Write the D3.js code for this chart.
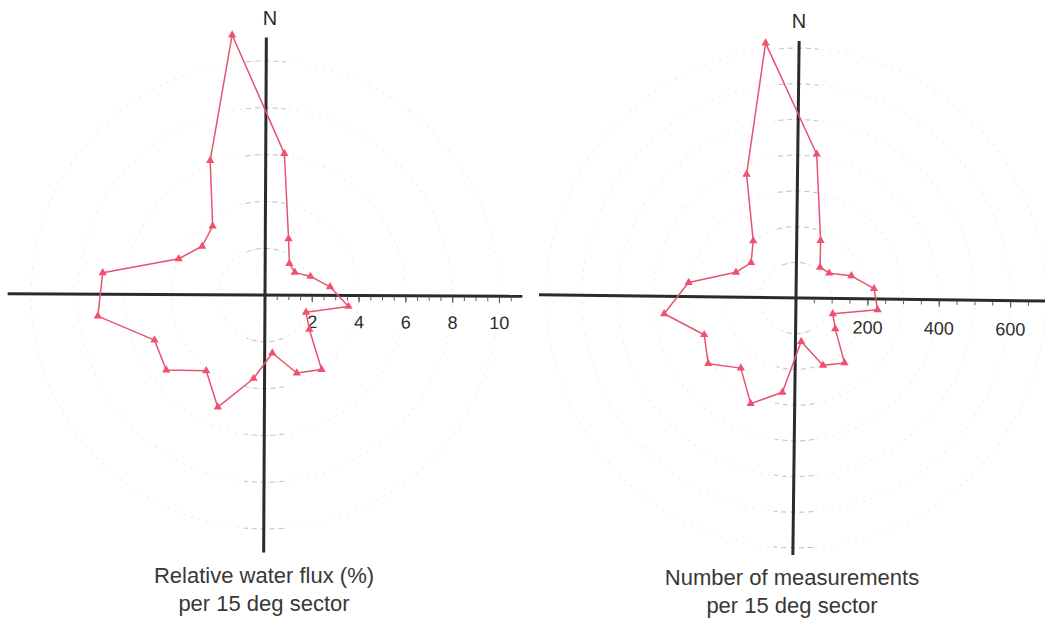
<!DOCTYPE html>
<html>
<head>
<meta charset="utf-8">
<script src="https://cdn.jsdelivr.net/npm/d3@7"></script>
<style>
  html, body { margin: 0; padding: 0; background: #ffffff; }
  svg { display: block; font-family: "Liberation Sans", Arial, sans-serif; }
</style>
</head>
<body>
<svg id="chart" width="1045" height="621"></svg>
<script>
// Compass bearing (deg) of the centre of each 15 degree sector
const sectorAngles = [7.5, 22.5, 37.5, 52.5, 67.5, 82.5, 97.5, 112.5, 127.5, 142.5, 157.5, 172.5,
                      187.5, 202.5, 217.5, 232.5, 247.5, 262.5, 277.5, 292.5, 307.5, 322.5, 337.5, 352.5];

// Relative water flux (%) per sector
const fluxPercent = [6.1, 2.6, 1.7, 1.6, 2.1, 2.8, 3.6, 1.9, 2.4, 4.0, 3.6, 2.5,
                     3.6, 5.2, 4.1, 5.3, 5.1, 7.2, 7.0, 4.0, 3.4, 3.7, 6.2, 11.2];

// Number of measurements per sector
const measurementCount = [407, 175, 109, 116, 167, 220, 231, 112, 140, 227, 203, 123,
                          267, 322, 250, 307, 277, 372, 304, 183, 160, 200, 373, 719];

// Radial axis labels and ring values
const fluxTickLabels = [2, 4, 6, 8, 10];
const fluxRings = [2, 4, 6, 8, 10];
const countTickLabels = [200, 400, 600];
const countRings = [100, 200, 300, 400, 500, 600, 700];

const captionFlux = ["Relative water flux (%)", "per 15 deg sector"];
const captionCount = ["Number of measurements", "per 15 deg sector"];

const svg = d3.select("#chart");

function drawRose(opts) {
  const g = svg.append("g")
    .attr("transform", `translate(${opts.cx},${opts.cy}) rotate(${opts.rotate})`);

  const r = d3.scaleLinear().domain([0, opts.maxValue]).range([0, opts.radius]);
  const R = r(opts.maxValue);

  // faint dotted range rings
  g.append("g").selectAll("circle")
    .data(opts.rings)
    .join("circle")
    .attr("r", d => r(d))
    .attr("fill", "none")
    .attr("stroke", "#e9e9e9")
    .attr("stroke-width", 1)
    .attr("stroke-dasharray", "2,6");

  // ring segments near the north-south line are printed darker
  const arcs = g.append("g");
  opts.rings.forEach(v => {
    [-Math.PI / 2, Math.PI / 2].forEach(mid => {
      const p = d3.path();
      const half = 20 / r(v);
      p.arc(0, 0, r(v), mid - Math.min(half, 0.4), mid + Math.min(half, 0.4));
      arcs.append("path")
        .attr("d", p.toString())
        .attr("fill", "none")
        .attr("stroke", "#bfc3c8")
        .attr("stroke-width", 1)
        .attr("stroke-dasharray", "5,4");
    });
  });

  // main cross axes
  g.append("line").attr("x1", -R).attr("x2", R).attr("y1", 0).attr("y2", 0)
    .attr("stroke", "#2b2b2b").attr("stroke-width", 3);
  g.append("line").attr("x1", 0).attr("x2", 0).attr("y1", -R).attr("y2", R)
    .attr("stroke", "#2b2b2b").attr("stroke-width", 3);

  // minor ticks along the east axis
  const minorAxis = d3.axisBottom(r)
    .tickValues(d3.range(opts.minorStep, opts.maxValue, opts.minorStep))
    .tickSize(4)
    .tickFormat("");
  const minorG = g.append("g").attr("transform", "translate(0,1)").call(minorAxis);
  minorG.select(".domain").remove();
  minorG.selectAll(".tick line").attr("stroke", "#56606e").attr("stroke-width", 1);

  // labelled ticks
  const majorAxis = d3.axisBottom(r)
    .tickValues(opts.labels)
    .tickSize(6)
    .tickPadding(opts.labelPad)
    .tickFormat(d3.format("d"));
  const majorG = g.append("g").attr("transform", "translate(0,1)").call(majorAxis);
  majorG.select(".domain").remove();
  majorG.selectAll(".tick line").attr("stroke", "#56606e").attr("stroke-width", 1.2);
  majorG.selectAll(".tick text")
    .attr("font-size", 18)
    .attr("font-family", "Liberation Sans, Arial, sans-serif")
    .attr("fill", "#2e2e2e");

  // closed rose polygon
  const pts = opts.values.map((v, i) => ({ a: opts.angles[i] * Math.PI / 180, v }));
  const line = d3.lineRadial()
    .angle(d => d.a)
    .radius(d => r(d.v))
    .curve(d3.curveLinearClosed);

  g.append("path")
    .datum(pts)
    .attr("d", line)
    .attr("fill", "none")
    .attr("stroke", "#e5546f")
    .attr("stroke-width", 1.5)
    .attr("stroke-linejoin", "round");

  g.append("g").selectAll("path")
    .data(pts)
    .join("path")
    .attr("d", d3.symbol(d3.symbolTriangle, 30))
    .attr("transform", d => {
      const x = r(d.v) * Math.sin(d.a), y = -r(d.v) * Math.cos(d.a);
      return `translate(${x},${y}) rotate(${-opts.rotate})`;
    })
    .attr("fill", "#f2506f");

  // north marker
  svg.append("text")
    .attr("x", opts.nx).attr("y", opts.ny)
    .attr("text-anchor", "middle")
    .attr("font-size", 20)
    .attr("fill", "#2b2b2b")
    .text("N");

  // caption
  const cap = svg.append("text")
    .attr("text-anchor", "middle")
    .attr("font-size", 22)
    .attr("fill", "#383838");
  opts.caption.forEach((t, i) => {
    cap.append("tspan")
      .attr("x", opts.capX)
      .attr("y", opts.capY + i * 27.5)
      .text(t);
  });
}

drawRose({
  cx: 265, cy: 295, rotate: 0.3, radius: 257.4, maxValue: 11, minorStep: 0.5,
  labels: fluxTickLabels, labelPad: 13, rings: fluxRings,
  angles: sectorAngles, values: fluxPercent,
  nx: 270, ny: 25, caption: captionFlux, capX: 264, capY: 583
});

drawRose({
  cx: 796, cy: 298, rotate: 0.7, radius: 257, maxValue: 720, minorStep: 50,
  labels: countTickLabels, labelPad: 15, rings: countRings,
  angles: sectorAngles, values: measurementCount,
  nx: 799, ny: 28, caption: captionCount, capX: 792, capY: 585
});
</script>
</body>
</html>
